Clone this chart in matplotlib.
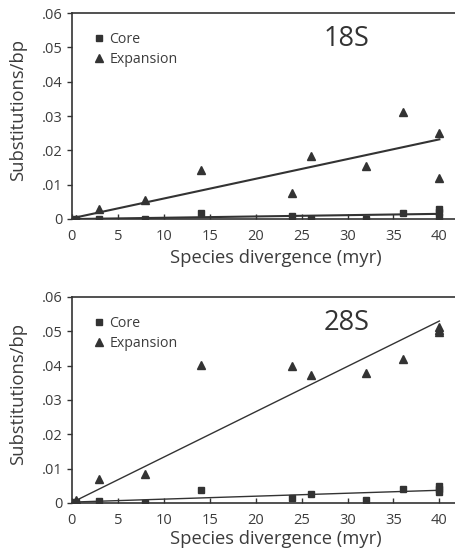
import numpy as np
import matplotlib.pyplot as plt
from matplotlib.ticker import FuncFormatter

plt.rcParams['font.family'] = ['Open Sans', 'DejaVu Sans']

# 18S panel
x18_core = [0.5, 3, 8, 14, 24, 26, 32, 36, 40, 40, 40]
y18_core = [0.0, 0.0, 0.0, 0.0018, 0.0008, 0.0, 0.0, 0.0018, 0.0029, 0.0019, 0.0005]
x18_exp = [0.5, 3, 8, 14, 24, 26, 32, 36, 40, 40]
y18_exp = [0.0, 0.0030, 0.0054, 0.0142, 0.0077, 0.0184, 0.0153, 0.0311, 0.0250, 0.0119]
fit18_x = [0.5, 40]
fit18_core = [0.0, 0.0015]
fit18_exp = [0.0005, 0.0232]

# 28S panel
x28_core = [0.5, 3, 8, 14, 24, 26, 32, 36, 40, 40, 40]
y28_core = [0.0003, 0.0005, 0.0001, 0.0039, 0.0015, 0.0025, 0.0008, 0.0042, 0.0050, 0.0042, 0.0032]
x28_exp = [0.5, 3, 8, 14, 24, 26, 32, 36, 40, 40, 40]
y28_exp = [0.0010, 0.0070, 0.0083, 0.0401, 0.0400, 0.0374, 0.0379, 0.0420, 0.0513, 0.0505, 0.0498]
fit28_x = [0.5, 40]
fit28_core = [0.0003, 0.0037]
fit28_exp = [0.0008, 0.0530]

xticks = [0, 5, 10, 15, 20, 25, 30, 35, 40]
yticks = [0, 0.01, 0.02, 0.03, 0.04, 0.05, 0.06]

INK = '#333333'
TXT = '#3c3c3c'


def yfmt(v, pos):
    if abs(v) < 1e-9:
        return '0'
    return ('%.2f' % v)[1:]


def panel(ax, xc, yc, xe, ye, fx, fc, fe, title, lw, xlab_y):
    ax.plot(fx, fe, color=INK, lw=lw, zorder=2)
    ax.plot(fx, fc, color=INK, lw=lw, zorder=2)
    ax.plot(xc, yc, 's', color=INK, ms=4.5, ls='none', label='Core', zorder=3)
    ax.plot(xe, ye, '^', color=INK, ms=6, ls='none', label='Expansion', zorder=3)
    ax.set_xlim(0, 41.7)
    ax.set_ylim(0, 0.06)
    ax.set_xticks(xticks)
    ax.set_yticks(yticks)
    ax.yaxis.set_major_formatter(FuncFormatter(yfmt))
    ax.spines['right'].set_visible(False)
    for s in ['left', 'bottom', 'top']:
        ax.spines[s].set_color(INK)
        ax.spines[s].set_linewidth(1.2)
    ax.tick_params(axis='x', direction='in', length=3.6, width=1, colors=INK,
                   labelsize=10.5, pad=7, labelcolor=TXT)
    ax.tick_params(axis='y', direction='out', length=3.6, width=1, colors=INK,
                   labelsize=10.5, pad=3, labelcolor=TXT)
    ax.set_xlabel('Species divergence (myr)', fontsize=13.2, color=TXT)
    ax.set_ylabel('Substitutions/bp', fontsize=13.2, color=TXT)
    ax.xaxis.set_label_coords(0.533, xlab_y)
    ax.yaxis.set_label_coords(-0.1175, 0.53)
    ax.text(0.718, 0.875, title, transform=ax.transAxes, fontsize=19.5,
            color=INK, ha='center', va='center')
    ax.legend(loc='upper left', frameon=False, fontsize=10.2, handlelength=0.6,
              handletextpad=0.4, borderaxespad=0.3, labelspacing=0.32,
              bbox_to_anchor=(0.035, 0.955), labelcolor=TXT)


fig = plt.figure(figsize=(4.55, 5.54), dpi=100)
ax1 = fig.add_axes([0.158, 0.6047, 0.842, 0.3718])
ax2 = fig.add_axes([0.158, 0.0921, 0.842, 0.3718])
panel(ax1, x18_core, y18_core, x18_exp, y18_exp, fit18_x, fit18_core, fit18_exp, '18S', 1.5, -0.148)
panel(ax2, x28_core, y28_core, x28_exp, y28_exp, fit28_x, fit28_core, fit28_exp, '28S', 1.0, -0.13)
fig.savefig('out.png', dpi=100)
